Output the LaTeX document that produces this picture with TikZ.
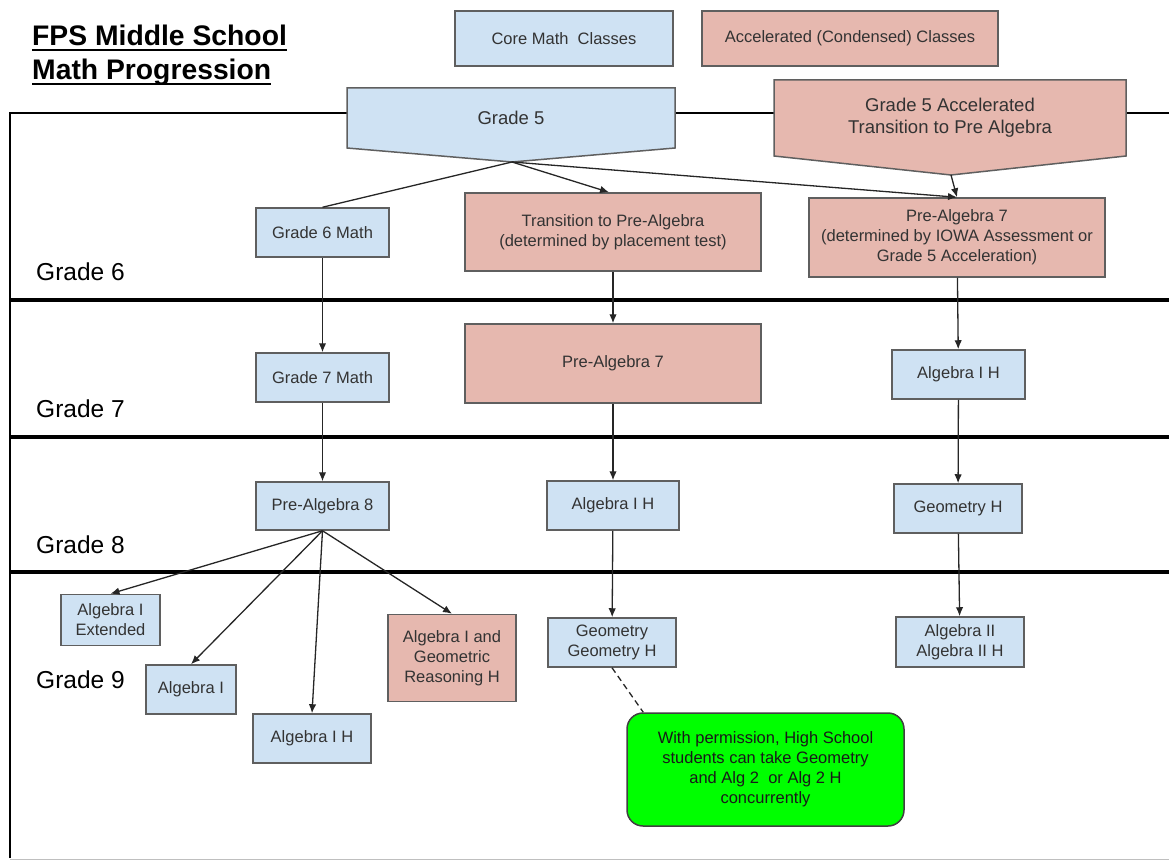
\documentclass[tikz,border=0pt]{standalone}
\usepackage{fontspec}
\setmainfont{Liberation Sans}
\usetikzlibrary{arrows.meta,calc,positioning}
\definecolor{coreblue}{HTML}{CFE2F3}
\definecolor{accpink}{HTML}{E6B8AF}
\definecolor{notegreen}{HTML}{00FF00}
\definecolor{boxline}{HTML}{5F5F5F}
\definecolor{boxtext}{HTML}{333333}
\tikzset{
        core/.style = {draw=boxline, fill=coreblue, rectangle,
            line width=1.5pt, text=boxtext, align=center, inner sep=0pt,
            font=\fontsize{16.5}{20}\selectfont},
        accel/.style = {core, fill=accpink},
        notebox/.style = {core, draw=black!75, fill=notegreen,
            rounded corners=16pt, text=black!90},
        pentagon/.style = {draw=boxline, line width=1.5pt},
        arrow/.style = {draw, -{Latex[length=9pt,width=7.5pt]}, line width=1.3pt, black!85},
        link/.style = {draw, line width=1.3pt, black!85},
        grade/.style = {anchor=base west, inner sep=0pt,
            font=\fontsize{24.5}{28}\selectfont},
        rowline/.style = {draw, line width=3.5pt},
    }

\begin{document}
\begin{tikzpicture}[x=1pt, y=-1pt]
    \useasboundingbox (0,0) rectangle (1169,861);

    % frame and grade rows
    \draw[line width=2.5pt] (10,858) -- (10,113) -- (1169,113);
    \draw[rowline] (10,300) -- (1169,300);
    \draw[rowline] (10,437) -- (1169,437);
    \draw[rowline] (10,572) -- (1169,572);
    \draw[black!25, line width=1pt] (10,859) -- (1169,859);

    % title
    \node[anchor=base west, inner sep=0pt, font=\fontsize{28.3}{33}\bfseries] (title1) at (32,46) {FPS Middle School};
    \node[anchor=base west, inner sep=0pt, font=\fontsize{28.3}{33}\bfseries] (title2) at (32,80) {Math Progression};
    \draw[line width=2pt] ($(title1.base west)+(0,4)$) -- ($(title1.base east)+(0,4)$);
    \draw[line width=2pt] ($(title2.base west)+(0,4)$) -- ($(title2.base east)+(0,4)$);

    % legend
    \node[core, minimum width=218pt, minimum height=55pt] (keycore) at (564,38.5) {Core Math\ \ Classes};
    \node[accel, minimum width=296pt, minimum height=55pt] (keyacc) at (850,38.5) {Accelerated (Condensed) Classes};

    % grade 5
    \draw[pentagon, fill=coreblue] (347,88) -- (675,88) -- (675,148) -- (512,162) -- (347,148) -- cycle;
    \draw[pentagon, fill=accpink] (774,80) -- (1126,80) -- (1126,156) -- (951,175) -- (774,156) -- cycle;
    \coordinate (g5tip) at (512,162);
    \coordinate (g5acctip) at (951,175);
    \node[align=center, text=boxtext, font=\fontsize{18.5}{22}\selectfont] (g5) at (511,118) {Grade 5};
    \node[align=center, text=boxtext, font=\fontsize{18.5}{22}\selectfont] (g5acc) at (950,118) {Grade 5 Accelerated\\Transition to Pre Algebra};

    % grade labels
    \node[grade] (lab6) at (36,280) {Grade 6};
    \node[grade] (lab7) at (36,417) {Grade 7};
    \node[grade] (lab8) at (36,553) {Grade 8};
    \node[grade] (lab9) at (36,688) {Grade 9};

    % grade 6
    \node[core, minimum width=133pt, minimum height=49pt] (g6) at (322.5,232.5) {Grade 6 Math};
    \node[accel, minimum width=296pt, minimum height=78pt] (trans) at (613,232) {Transition to Pre-Algebra\\(determined by placement test)};
    \node[accel, minimum width=296pt, minimum height=79pt] (pa7acc) at (957,237.5) {Pre-Algebra 7\\(determined by IOWA Assessment or\\Grade 5 Acceleration)};

    % grade 7
    \node[core, minimum width=133pt, minimum height=49pt] (g7) at (322.5,377.5) {Grade 7 Math};
    \node[accel, minimum width=296pt, minimum height=79pt] (pa7) at (613,363.5) {Pre-Algebra 7};
    \node[core, minimum width=133pt, minimum height=49pt] (alg7h) at (958.5,374.5) {Algebra I H};

    % grade 8
    \node[core, minimum width=133pt, minimum height=48pt] (pa8) at (322.5,506) {Pre-Algebra 8};
    \node[core, minimum width=132pt, minimum height=49pt] (alg8h) at (613,505.5) {Algebra I H};
    \node[core, minimum width=128pt, minimum height=49pt] (geo8h) at (958,508.5) {Geometry H};

    % grade 9
    \node[core, minimum width=99pt, minimum height=51pt] (algext) at (110.5,620) {Algebra I\\Extended};
    \node[core, minimum width=90pt, minimum height=49pt] (alg9) at (191,689.5) {Algebra I};
    \node[core, minimum width=118pt, minimum height=49pt] (alg9h) at (312,738.5) {Algebra I H};
    \node[accel, minimum width=128pt, minimum height=87pt] (alggeo) at (452,658) {Algebra I and\\Geometric\\Reasoning H};
    \node[core, minimum width=128pt, minimum height=49pt] (geo9) at (612,642.5) {Geometry\\Geometry H};
    \node[core, minimum width=128pt, minimum height=50pt] (alg2) at (960,642) {Algebra II\\Algebra II H};
    \node[notebox, minimum width=277pt, minimum height=113pt] (permit) at (765.5,769.5) {With permission, High School\\students can take Geometry\\and Alg 2\ \ or Alg 2 H\\concurrently};

    % connectors
    \draw[link] (g5tip) -- (g6.north);
    \draw[arrow] (g5tip) -- ($(trans.north)+(-4,0)$);
    \draw[arrow] (g5tip) -- (pa7acc.north);
    \draw[arrow] (g5acctip) -- (pa7acc.north);
    \draw[arrow] (g6) -- (g7);
    \draw[arrow] (trans) -- (pa7);
    \draw[arrow] (pa7acc) -- (alg7h);
    \draw[arrow] (g7) -- (pa8);
    \draw[arrow] (pa7) -- (alg8h);
    \draw[arrow] (alg7h) -- (geo8h);
    \draw[arrow] (pa8.south) -- (algext.north);
    \draw[arrow] (pa8.south) -- (alg9.north);
    \draw[arrow] (pa8.south) -- (alg9h.north);
    \draw[arrow] (pa8.south) -- (alggeo.north);
    \draw[arrow] (alg8h) -- (geo9);
    \draw[arrow] (geo8h) -- (alg2);
    \draw[link, dash pattern=on 6pt off 4pt] (geo9.south) -- ($(permit.north west)+(17,0)$);
\end{tikzpicture}
\end{document}
